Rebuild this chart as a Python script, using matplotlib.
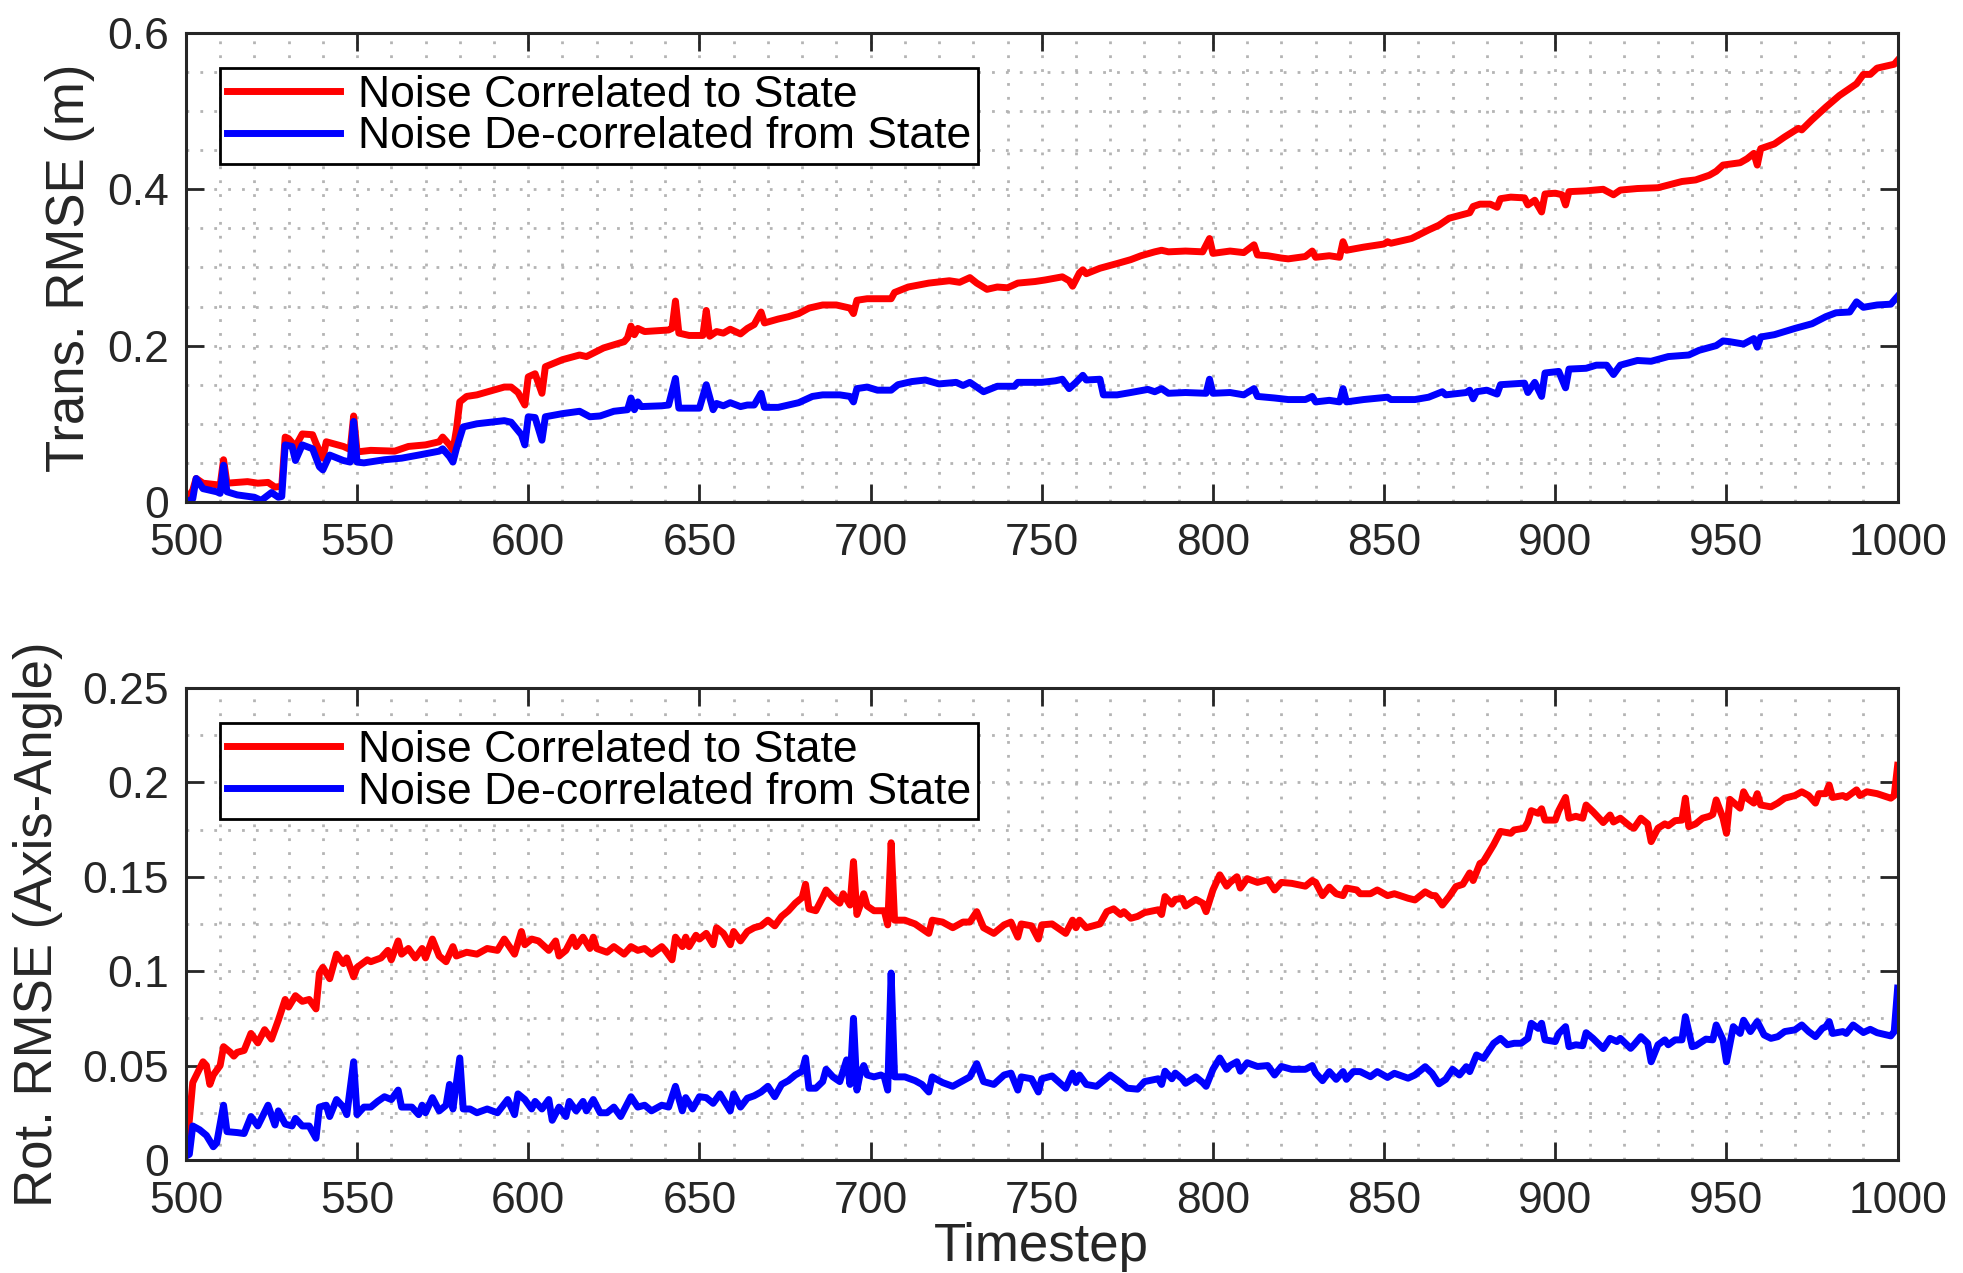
import matplotlib

matplotlib.use("Agg")

import matplotlib.pyplot as plt
from matplotlib.ticker import FuncFormatter, MultipleLocator

plt.rcParams["font.family"] = ["Liberation Sans", "DejaVu Sans"]

AXIS_COLOR = "#262626"
GRID_COLOR = "#b4b4b4"

legend_labels = ["Noise Correlated to State", "Noise De-correlated from State"]
series_colors = ["#ff0000", "#0000ff"]

# Translational RMSE
trans_corr_t = [
    500, 502, 503, 505, 509, 510, 511, 512, 515, 518, 521, 524, 526, 528, 529,
    530, 532, 534, 537, 538, 540, 541, 546, 548, 549, 550, 554, 561, 565, 570,
    574, 575, 577, 578, 579, 580, 582, 585, 593, 595, 597, 599, 600, 602, 604,
    605, 610, 615, 617, 622, 628, 629, 630, 631, 632, 634, 641, 642, 643, 644,
    647, 651, 652, 653, 655, 657, 659, 662, 664, 666, 668, 669, 673, 676, 679,
    682, 686, 690, 694, 695, 696, 699, 706, 707, 711, 717, 723, 726, 729, 731,
    734, 737, 740, 743, 748, 751, 756, 758, 759, 761, 762, 763, 767, 772, 776,
    779, 783, 785, 787, 792, 797, 799, 800, 805, 809, 812, 813, 816, 820, 822,
    827, 829, 830, 834, 837, 838, 839, 844, 850, 851, 852, 858, 863, 866, 869,
    875, 876, 878, 881, 883, 884, 887, 891, 892, 894, 896, 897, 900, 902, 903,
    904, 909, 914, 917, 919, 924, 930, 937, 941, 945, 947, 949, 954, 956, 958,
    959, 960, 964, 967, 971, 972, 975, 979, 983, 988, 990, 992, 994, 999, 1000,
]
trans_corr_v = [
    0.002, 0.015, 0.030, 0.024, 0.022, 0.021, 0.054, 0.024, 0.025, 0.026, 0.024, 0.025, 0.019, 0.020, 0.083,
    0.081, 0.071, 0.087, 0.086, 0.075, 0.056, 0.077, 0.071, 0.067, 0.110, 0.064, 0.066, 0.065, 0.071, 0.073,
    0.077, 0.083, 0.073, 0.066, 0.092, 0.128, 0.135, 0.137, 0.147, 0.147, 0.140, 0.124, 0.160, 0.164, 0.139,
    0.173, 0.182, 0.188, 0.186, 0.197, 0.205, 0.210, 0.225, 0.214, 0.222, 0.218, 0.220, 0.222, 0.257, 0.216,
    0.213, 0.213, 0.245, 0.212, 0.218, 0.216, 0.221, 0.215, 0.222, 0.227, 0.243, 0.229, 0.234, 0.237, 0.241,
    0.248, 0.252, 0.252, 0.248, 0.241, 0.258, 0.260, 0.260, 0.268, 0.275, 0.280, 0.283, 0.281, 0.287, 0.280,
    0.272, 0.275, 0.274, 0.280, 0.282, 0.284, 0.288, 0.283, 0.276, 0.293, 0.297, 0.292, 0.299, 0.305, 0.310,
    0.315, 0.320, 0.322, 0.320, 0.321, 0.320, 0.337, 0.318, 0.321, 0.319, 0.329, 0.316, 0.315, 0.312, 0.311,
    0.314, 0.321, 0.313, 0.315, 0.313, 0.333, 0.322, 0.326, 0.330, 0.333, 0.331, 0.337, 0.348, 0.354, 0.363,
    0.370, 0.378, 0.381, 0.381, 0.377, 0.388, 0.390, 0.389, 0.380, 0.386, 0.371, 0.394, 0.395, 0.393, 0.380,
    0.397, 0.398, 0.400, 0.393, 0.399, 0.401, 0.402, 0.410, 0.412, 0.418, 0.423, 0.431, 0.434, 0.439, 0.446,
    0.431, 0.452, 0.458, 0.467, 0.478, 0.476, 0.489, 0.505, 0.520, 0.535, 0.547, 0.547, 0.555, 0.560, 0.565,
]
trans_decorr_t = [
    500, 502, 503, 505, 509, 510, 511, 512, 515, 520, 522, 525, 527, 528, 529,
    531, 532, 534, 537, 539, 540, 542, 546, 548, 549, 550, 552, 558, 563, 568,
    574, 575, 577, 578, 579, 581, 585, 593, 595, 598, 599, 600, 602, 604, 605,
    610, 615, 618, 621, 625, 629, 630, 631, 632, 633, 639, 641, 643, 644, 650,
    652, 654, 655, 657, 659, 662, 664, 666, 668, 669, 673, 676, 679, 683, 686,
    691, 694, 695, 696, 699, 702, 706, 708, 712, 716, 720, 725, 727, 729, 733,
    737, 742, 743, 750, 754, 756, 758, 760, 762, 763, 767, 768, 772, 776, 781,
    783, 785, 787, 792, 798, 799, 800, 805, 809, 812, 813, 818, 822, 827, 829,
    830, 834, 837, 838, 839, 844, 851, 852, 859, 863, 867, 868, 874, 875, 876,
    877, 880, 883, 884, 891, 892, 894, 896, 897, 901, 903, 904, 909, 912, 915,
    917, 919, 924, 928, 933, 939, 942, 947, 949, 951, 955, 958, 959, 960, 964,
    970, 975, 979, 982, 986, 988, 990, 994, 998, 1000,
]
trans_decorr_v = [
    0.000, 0.004, 0.030, 0.017, 0.013, 0.011, 0.047, 0.013, 0.009, 0.006, 0.002, 0.012, 0.006, 0.007, 0.073,
    0.071, 0.053, 0.073, 0.068, 0.045, 0.041, 0.060, 0.053, 0.051, 0.103, 0.051, 0.050, 0.054, 0.056, 0.060,
    0.065, 0.068, 0.058, 0.051, 0.068, 0.096, 0.100, 0.104, 0.102, 0.086, 0.073, 0.109, 0.108, 0.079, 0.109,
    0.113, 0.116, 0.109, 0.110, 0.116, 0.118, 0.133, 0.118, 0.128, 0.122, 0.123, 0.124, 0.158, 0.120, 0.120,
    0.150, 0.118, 0.126, 0.123, 0.127, 0.122, 0.124, 0.124, 0.139, 0.121, 0.121, 0.124, 0.127, 0.135, 0.137,
    0.137, 0.135, 0.128, 0.145, 0.147, 0.143, 0.143, 0.150, 0.154, 0.156, 0.151, 0.153, 0.149, 0.153, 0.141,
    0.148, 0.148, 0.153, 0.153, 0.155, 0.157, 0.145, 0.153, 0.162, 0.156, 0.157, 0.137, 0.137, 0.140, 0.144,
    0.141, 0.145, 0.139, 0.140, 0.139, 0.157, 0.139, 0.140, 0.137, 0.145, 0.135, 0.133, 0.131, 0.131, 0.135,
    0.128, 0.130, 0.128, 0.145, 0.128, 0.131, 0.134, 0.131, 0.131, 0.134, 0.141, 0.137, 0.140, 0.143, 0.132,
    0.141, 0.143, 0.138, 0.150, 0.152, 0.140, 0.153, 0.135, 0.165, 0.167, 0.146, 0.170, 0.171, 0.175, 0.175,
    0.163, 0.175, 0.181, 0.180, 0.186, 0.188, 0.194, 0.200, 0.206, 0.205, 0.202, 0.209, 0.198, 0.211, 0.214,
    0.222, 0.228, 0.237, 0.242, 0.243, 0.256, 0.249, 0.252, 0.253, 0.263,
]

# Rotational RMSE
rot_corr_t = [
    500, 501, 502, 505, 506, 507, 508, 510, 511, 513, 514, 515, 517, 519, 521,
    523, 525, 527, 529, 530, 532, 534, 536, 538, 539, 540, 542, 544, 546, 547,
    549, 550, 553, 554, 557, 559, 560, 562, 563, 565, 567, 569, 570, 572, 574,
    576, 578, 579, 582, 585, 588, 591, 593, 596, 598, 599, 601, 603, 606, 608,
    609, 611, 613, 614, 616, 618, 619, 620, 623, 625, 628, 630, 632, 634, 636,
    639, 640, 642, 643, 645, 646, 647, 649, 650, 652, 654, 655, 657, 659, 660,
    662, 664, 666, 668, 670, 672, 674, 676, 678, 680, 681, 682, 684, 686, 687,
    689, 691, 692, 694, 695, 696, 697, 698, 699, 701, 704, 705, 706, 707, 710,
    713, 717, 718, 721, 724, 727, 729, 731, 733, 736, 739, 741, 743, 744, 747,
    749, 750, 753, 757, 759, 760, 761, 763, 765, 767, 769, 771, 773, 774, 776,
    778, 780, 784, 785, 786, 788, 789, 791, 792, 795, 797, 798, 800, 802, 804,
    805, 807, 808, 810, 813, 816, 818, 820, 823, 827, 829, 830, 832, 834, 836,
    838, 839, 842, 843, 846, 848, 851, 853, 857, 859, 862, 864, 865, 867, 869,
    871, 873, 875, 876, 878, 879, 882, 884, 887, 888, 891, 892, 893, 895, 896,
    897, 900, 901, 903, 904, 906, 908, 909, 911, 914, 916, 917, 919, 922, 923,
    925, 927, 928, 930, 932, 933, 935, 937, 938, 939, 941, 943, 945, 946, 947,
    949, 950, 951, 954, 955, 956, 958, 959, 960, 963, 965, 967, 970, 972, 974,
    976, 977, 979, 980, 981, 984, 985, 988, 989, 991, 994, 998, 999, 1000,
]
rot_corr_v = [
    0.0035, 0.021, 0.041, 0.052, 0.050, 0.040, 0.045, 0.050, 0.060, 0.057, 0.055, 0.057, 0.058, 0.067, 0.062,
    0.069, 0.064, 0.074, 0.085, 0.081, 0.087, 0.084, 0.085, 0.080, 0.099, 0.102, 0.096, 0.109, 0.104, 0.107,
    0.097, 0.102, 0.106, 0.105, 0.107, 0.111, 0.106, 0.116, 0.109, 0.112, 0.107, 0.112, 0.107, 0.117, 0.108,
    0.105, 0.113, 0.108, 0.110, 0.109, 0.112, 0.111, 0.117, 0.109, 0.121, 0.114, 0.117, 0.116, 0.111, 0.116,
    0.108, 0.111, 0.118, 0.113, 0.118, 0.112, 0.118, 0.112, 0.110, 0.113, 0.109, 0.113, 0.111, 0.112, 0.109,
    0.113, 0.111, 0.106, 0.118, 0.113, 0.118, 0.113, 0.119, 0.117, 0.120, 0.114, 0.123, 0.120, 0.114, 0.121,
    0.116, 0.121, 0.123, 0.124, 0.127, 0.124, 0.129, 0.132, 0.136, 0.139, 0.146, 0.133, 0.132, 0.139, 0.143,
    0.139, 0.136, 0.141, 0.135, 0.158, 0.130, 0.135, 0.141, 0.1345, 0.132, 0.132, 0.1245, 0.168, 0.127, 0.127,
    0.125, 0.120, 0.127, 0.126, 0.123, 0.126, 0.126, 0.1315, 0.123, 0.120, 0.1245, 0.126, 0.118, 0.125, 0.124,
    0.117, 0.1245, 0.125, 0.120, 0.127, 0.123, 0.127, 0.123, 0.124, 0.125, 0.1315, 0.133, 0.130, 0.1315, 0.128,
    0.129, 0.131, 0.1325, 0.130, 0.1395, 0.1355, 0.138, 0.1385, 0.1345, 0.138, 0.136, 0.1315, 0.143, 0.151, 0.145,
    0.147, 0.150, 0.144, 0.149, 0.147, 0.1485, 0.143, 0.147, 0.1465, 0.145, 0.148, 0.147, 0.140, 0.1445, 0.141,
    0.140, 0.144, 0.143, 0.141, 0.141, 0.143, 0.140, 0.141, 0.1386, 0.1377, 0.142, 0.140, 0.140, 0.135, 0.1395,
    0.1448, 0.146, 0.152, 0.148, 0.157, 0.158, 0.167, 0.174, 0.173, 0.1748, 0.1757, 0.179, 0.185, 0.1836, 0.186,
    0.180, 0.180, 0.185, 0.192, 0.181, 0.182, 0.181, 0.188, 0.1845, 0.1787, 0.1827, 0.179, 0.181, 0.1765, 0.1757,
    0.181, 0.178, 0.1686, 0.1757, 0.178, 0.177, 0.1797, 0.180, 0.1916, 0.1765, 0.178, 0.181, 0.182, 0.183, 0.1907,
    0.181, 0.173, 0.191, 0.1863, 0.195, 0.1916, 0.189, 0.194, 0.188, 0.187, 0.189, 0.1916, 0.193, 0.195, 0.193,
    0.189, 0.194, 0.194, 0.1986, 0.192, 0.193, 0.192, 0.196, 0.193, 0.195, 0.194, 0.1916, 0.193, 0.209,
]
rot_decorr_t = [
    500, 501, 502, 504, 506, 508, 509, 511, 512, 515, 517, 519, 521, 524, 526,
    527, 529, 531, 532, 534, 536, 538, 539, 541, 542, 544, 546, 547, 549, 550,
    552, 554, 556, 558, 560, 562, 563, 566, 568, 569, 570, 572, 574, 576, 577,
    578, 580, 581, 583, 585, 588, 591, 594, 596, 597, 599, 601, 602, 604, 606,
    607, 609, 611, 612, 614, 616, 617, 619, 621, 623, 625, 627, 630, 632, 634,
    636, 639, 641, 643, 645, 646, 648, 650, 652, 654, 656, 657, 659, 660, 662,
    664, 666, 668, 670, 672, 674, 676, 678, 680, 681, 682, 684, 686, 687, 689,
    691, 693, 694, 695, 696, 697, 698, 699, 701, 703, 704, 705, 706, 707, 710,
    713, 715, 717, 718, 721, 724, 727, 729, 731, 733, 736, 739, 741, 743, 744,
    747, 749, 750, 753, 757, 759, 760, 761, 763, 766, 768, 770, 773, 775, 778,
    780, 784, 785, 786, 788, 789, 791, 792, 795, 797, 798, 800, 802, 804, 805,
    807, 808, 810, 813, 816, 818, 820, 823, 827, 829, 830, 832, 834, 836, 838,
    839, 841, 843, 846, 848, 851, 853, 857, 859, 862, 864, 866, 868, 870, 872,
    874, 875, 877, 879, 880, 882, 884, 886, 888, 890, 892, 893, 895, 896, 897,
    900, 901, 903, 904, 906, 908, 909, 911, 914, 916, 918, 919, 922, 923, 925,
    927, 928, 930, 932, 933, 935, 937, 938, 940, 941, 944, 946, 947, 949, 950,
    952, 954, 955, 957, 959, 961, 963, 965, 967, 970, 972, 974, 976, 978, 979,
    980, 981, 984, 985, 987, 990, 992, 994, 998, 999, 1000,
]
rot_decorr_v = [
    0.002, 0.003, 0.018, 0.016, 0.013, 0.007, 0.009, 0.029, 0.015, 0.0145, 0.014, 0.023, 0.018, 0.029, 0.0185,
    0.026, 0.019, 0.018, 0.022, 0.018, 0.018, 0.0115, 0.028, 0.029, 0.023, 0.032, 0.028, 0.024, 0.052, 0.024,
    0.028, 0.028, 0.031, 0.0335, 0.032, 0.037, 0.028, 0.028, 0.024, 0.029, 0.025, 0.033, 0.026, 0.029, 0.040,
    0.027, 0.054, 0.027, 0.027, 0.025, 0.027, 0.025, 0.032, 0.024, 0.035, 0.032, 0.027, 0.031, 0.027, 0.032,
    0.021, 0.028, 0.023, 0.031, 0.026, 0.031, 0.026, 0.032, 0.025, 0.025, 0.028, 0.023, 0.0335, 0.028, 0.029,
    0.026, 0.029, 0.028, 0.039, 0.026, 0.033, 0.027, 0.0335, 0.033, 0.030, 0.035, 0.032, 0.026, 0.035, 0.028,
    0.0327, 0.034, 0.036, 0.039, 0.0335, 0.040, 0.042, 0.045, 0.047, 0.054, 0.038, 0.038, 0.0415, 0.048, 0.044,
    0.0415, 0.053, 0.040, 0.075, 0.037, 0.046, 0.050, 0.045, 0.044, 0.045, 0.044, 0.037, 0.099, 0.044, 0.044,
    0.042, 0.040, 0.036, 0.044, 0.041, 0.039, 0.042, 0.044, 0.051, 0.0415, 0.040, 0.045, 0.046, 0.037, 0.044,
    0.043, 0.036, 0.043, 0.0445, 0.038, 0.046, 0.041, 0.045, 0.040, 0.039, 0.042, 0.045, 0.041, 0.038, 0.0375,
    0.0415, 0.043, 0.040, 0.047, 0.043, 0.046, 0.043, 0.0406, 0.044, 0.041, 0.039, 0.048, 0.054, 0.048, 0.050,
    0.052, 0.047, 0.0515, 0.0495, 0.050, 0.045, 0.0495, 0.048, 0.048, 0.050, 0.046, 0.042, 0.0468, 0.0427, 0.0468,
    0.0427, 0.0468, 0.0468, 0.0441, 0.0468, 0.0437, 0.0459, 0.0433, 0.045, 0.0494, 0.0459, 0.0403, 0.0427, 0.048, 0.045,
    0.0494, 0.0468, 0.0556, 0.0538, 0.0565, 0.0618, 0.0644, 0.061, 0.0618, 0.0618, 0.0644, 0.0724, 0.0697, 0.0724, 0.0636,
    0.0627, 0.067, 0.0706, 0.060, 0.061, 0.0605, 0.0674, 0.0644, 0.059, 0.0644, 0.0627, 0.0644, 0.0591, 0.061, 0.0653,
    0.0618, 0.052, 0.061, 0.0636, 0.061, 0.0636, 0.0636, 0.0759, 0.060, 0.0605, 0.064, 0.0636, 0.0715, 0.0636, 0.052,
    0.0706, 0.067, 0.074, 0.068, 0.0733, 0.0662, 0.0644, 0.0653, 0.068, 0.0689, 0.0715, 0.068, 0.0653, 0.0697, 0.0706,
    0.0733, 0.067, 0.068, 0.067, 0.0715, 0.0675, 0.0692, 0.0674, 0.0657, 0.068, 0.091,
]


def style_axis(ax, ylim, y_major, y_minor, ylabel, ylabel_x):
    """MATLAB-like box: inward ticks on all sides, dotted major+minor grid."""
    ax.set_xlim(500, 1000)
    ax.set_ylim(*ylim)
    ax.xaxis.set_major_locator(MultipleLocator(50))
    ax.xaxis.set_minor_locator(MultipleLocator(10))
    ax.yaxis.set_major_locator(MultipleLocator(y_major))
    ax.yaxis.set_minor_locator(MultipleLocator(y_minor))
    ax.yaxis.set_major_formatter(FuncFormatter(lambda v, _: f"{v:g}"))

    ax.tick_params(
        which="major", direction="in", length=13, width=2, top=True, right=True,
        labelsize=32, colors=AXIS_COLOR,
    )
    ax.tick_params(axis="x", which="major", pad=15)
    ax.tick_params(axis="y", which="major", pad=12)
    ax.tick_params(which="minor", length=0)

    for spine in ax.spines.values():
        spine.set_color(AXIS_COLOR)
        spine.set_linewidth(2.2)

    ax.set_axisbelow(True)
    ax.grid(True, which="both", color=GRID_COLOR, linestyle=(0, (1, 4)), linewidth=2)

    ax.set_ylabel(ylabel, fontsize=38, color=AXIS_COLOR)
    ax.yaxis.set_label_coords(ylabel_x, 0.5)


def add_legend(ax):
    leg = ax.legend(
        legend_labels, loc="upper left", bbox_to_anchor=(34 / 1712, 1 - 35 / 470),
        borderaxespad=0, fontsize=32, frameon=True, fancybox=False, framealpha=1,
        edgecolor="black", borderpad=0.15, labelspacing=0.02, handlelength=2.55,
        handletextpad=0.4,
    )
    leg.get_frame().set_linewidth(2)


fig = plt.figure(figsize=(19.63, 12.73), dpi=100)
ax_top = fig.add_axes([0.0947, 0.6057, 0.872, 0.3684])
ax_bot = fig.add_axes([0.0947, 0.0888, 0.872, 0.3708])

ax_top.plot(trans_corr_t, trans_corr_v, color=series_colors[0], lw=5)
ax_top.plot(trans_decorr_t, trans_decorr_v, color=series_colors[1], lw=5)
style_axis(ax_top, (0, 0.6), 0.2, 0.05, "Trans. RMSE (m)", -0.053)
add_legend(ax_top)

ax_bot.plot(rot_corr_t, rot_corr_v, color=series_colors[0], lw=5)
ax_bot.plot(rot_decorr_t, rot_decorr_v, color=series_colors[1], lw=5)
style_axis(ax_bot, (0, 0.25), 0.05, 0.025, "Rot. RMSE (Axis-Angle)", -0.072)
ax_bot.set_xlabel("Timestep", fontsize=38, color=AXIS_COLOR)
ax_bot.xaxis.set_label_coords(0.5, -0.132)
add_legend(ax_bot)

fig.savefig("out.png", dpi=100)
